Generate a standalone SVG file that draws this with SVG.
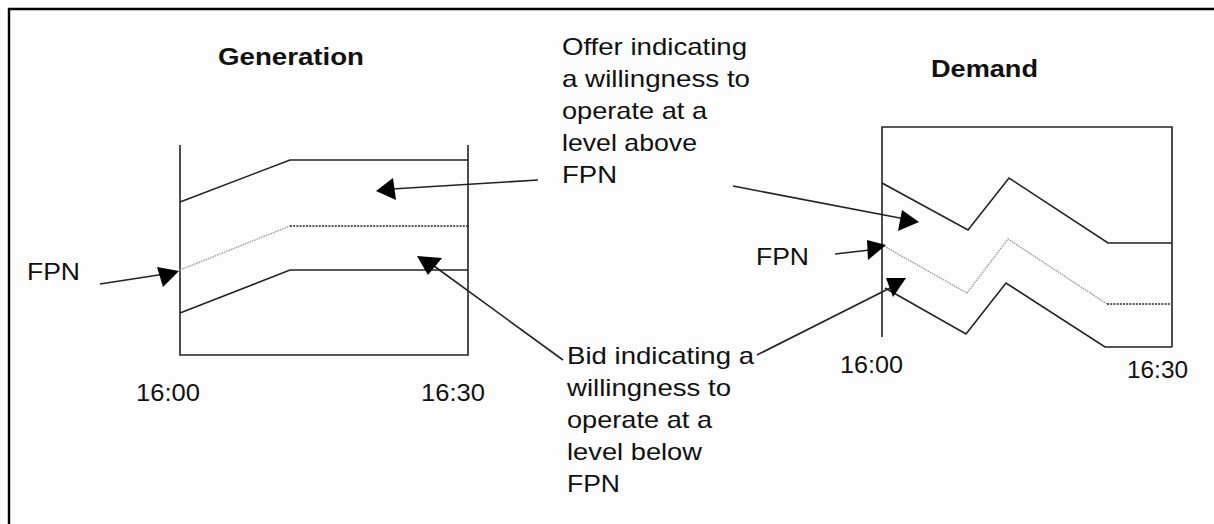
<svg xmlns="http://www.w3.org/2000/svg" width="1214" height="524" viewBox="0 0 1214 524">
<style>
  .t { font-family: "Liberation Sans", Arial, sans-serif; font-size: 24px; fill: #111; }
  .b { font-weight: bold; }
  .ln { fill: none; stroke: #222; stroke-width: 1.6; }
  .dotg { fill: none; stroke: #999; stroke-width: 1.4; stroke-dasharray: 1.5 1; }
  .dotd { fill: none; stroke: #222; stroke-width: 1.4; stroke-dasharray: 2 1.2; }
  .arr { fill: none; stroke: #222; stroke-width: 1.6; }
  .head { fill: #000; stroke: none; }
</style>
<rect x="0" y="0" width="1214" height="524" fill="#fdfdfd"/>
<g id="frame">
  <line x1="9" y1="8" x2="9" y2="524" stroke="#000" stroke-width="2.4"/>
  <line x1="8" y1="9" x2="1214" y2="9" stroke="#000" stroke-width="2.4"/>
</g>
<g id="generation">
  <text class="t b" x="218" y="65" textLength="146" lengthAdjust="spacingAndGlyphs">Generation</text>
  <polyline class="ln" points="180,145 180,355 468,355 468,145"/>
  <polyline class="ln" points="180,202 290,160 468,160"/>
  <polyline class="dotg" points="180,270 290,226"/>
  <line class="dotd" x1="290" y1="226" x2="468" y2="226"/>
  <polyline class="ln" points="180,313 290,270 468,270"/>
  <text class="t" x="136" y="401" textLength="64" lengthAdjust="spacingAndGlyphs">16:00</text>
  <text class="t" x="421" y="401" textLength="64" lengthAdjust="spacingAndGlyphs">16:30</text>
  <text class="t" x="27" y="280" textLength="53" lengthAdjust="spacingAndGlyphs">FPN</text>
</g>
<g id="demand">
  <text class="t b" x="931" y="77" textLength="107" lengthAdjust="spacingAndGlyphs">Demand</text>
  <polyline class="ln" points="882,337 882,127 1172,127 1172,347"/>
  <polyline class="ln" points="882,183 968,230 1009,178 1108,243 1172,243"/>
  <polyline class="dotg" points="882,245 967,293 1008,239 1107,304"/>
  <line class="dotd" x1="1107" y1="304" x2="1171" y2="304"/>
  <polyline class="ln" points="885,288 966,334 1006,283 1105,347 1172,347"/>
  <text class="t" x="840" y="373" textLength="63" lengthAdjust="spacingAndGlyphs">16:00</text>
  <text class="t" x="1127" y="378" textLength="61" lengthAdjust="spacingAndGlyphs">16:30</text>
  <text class="t" x="756" y="265" textLength="53" lengthAdjust="spacingAndGlyphs">FPN</text>
</g>
<g id="offer-label">
  <text class="t" x="562" y="55" textLength="185" lengthAdjust="spacingAndGlyphs">Offer indicating</text>
  <text class="t" x="562" y="87" textLength="188" lengthAdjust="spacingAndGlyphs">a willingness to</text>
  <text class="t" x="562" y="119" textLength="145" lengthAdjust="spacingAndGlyphs">operate at a</text>
  <text class="t" x="562" y="151" textLength="135" lengthAdjust="spacingAndGlyphs">level above</text>
  <text class="t" x="562" y="183" textLength="55" lengthAdjust="spacingAndGlyphs">FPN</text>
</g>
<g id="bid-label">
  <text class="t" x="567" y="364" textLength="187" lengthAdjust="spacingAndGlyphs">Bid indicating a</text>
  <text class="t" x="567" y="396" textLength="164" lengthAdjust="spacingAndGlyphs">willingness to</text>
  <text class="t" x="567" y="428" textLength="145" lengthAdjust="spacingAndGlyphs">operate at a</text>
  <text class="t" x="567" y="460" textLength="135" lengthAdjust="spacingAndGlyphs">level below</text>
  <text class="t" x="567" y="492" textLength="53" lengthAdjust="spacingAndGlyphs">FPN</text>
</g>
<g id="connectors">
  <line class="arr" x1="100" y1="284" x2="165" y2="274"/>
  <polygon class="head" points="157,267 179,271 163,287"/>
  <line class="arr" x1="538" y1="180" x2="392" y2="189"/>
  <polygon class="head" points="393,178 376,191 396,200"/>
  <line class="arr" x1="563" y1="360" x2="434" y2="266"/>
  <polygon class="head" points="417,256 442,258 428,275"/>
  <line class="arr" x1="733" y1="186" x2="905" y2="219"/>
  <polygon class="head" points="902,210 919,222 898,231"/>
  <line class="arr" x1="835" y1="254" x2="870" y2="250"/>
  <polygon class="head" points="867,240 886,245 868,260"/>
  <line class="arr" x1="757" y1="355" x2="890" y2="288"/>
  <polygon class="head" points="886,278 906,278 893,297"/>
</g>
</svg>
